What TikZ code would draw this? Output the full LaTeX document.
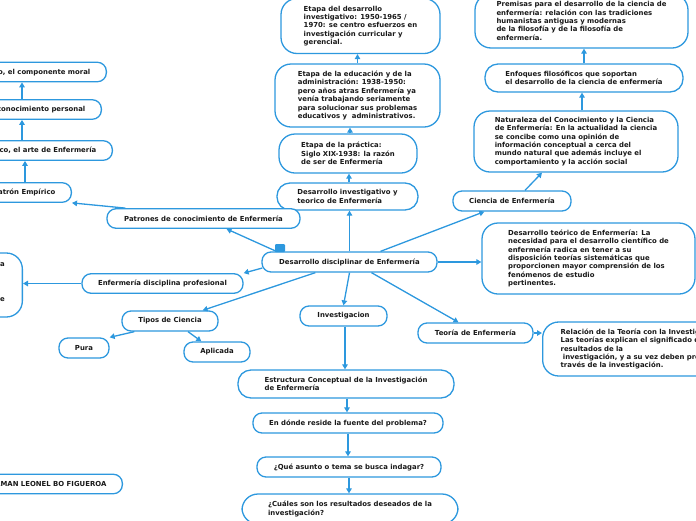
\documentclass[tikz,border=0pt]{standalone}
\usepackage{fontspec}
\setmainfont{DejaVu Sans}
\usetikzlibrary{arrows.meta,calc}
\definecolor{blu}{RGB}{45,152,222}
\definecolor{ink}{RGB}{25,25,25}
\newcommand\mapfnt{\bfseries\fontsize{6.9}{8.4}\selectfont}
\tikzset{
  bx/.style={draw=blu, line width=1.3pt, fill=white, rounded corners=9pt, text=ink, font=\mapfnt, inner sep=0pt, align=center},
  bigbx/.style={bx, rounded corners=16pt, align=left},
  leftbx/.style={bx, anchor=east, inner xsep=16pt, inner ysep=0pt, minimum height=19.5pt},
  plain/.style={text=ink, font=\mapfnt, inner sep=0pt},
  arr/.style={draw=blu, line width=1.3pt, -{Triangle[length=5pt,width=5.5pt]}},
}
\begin{document}
\begin{tikzpicture}[x=1pt,y=-1pt]
\useasboundingbox (0,0) rectangle (696,520);
\clip (0,0) rectangle (696,520);

% central column (upwards)
\node[bigbx, minimum width=159, minimum height=55] (e1) at (360.5,26)
  {Etapa del desarrollo\\investigativo: 1950-1965 /\\1970: se centro esfuerzos en\\investigación curricular y\\gerencial.};
\node[bigbx, minimum width=165, minimum height=63] (e2) at (357.5,95.5)
  {Etapa de la educación y de la\\administración: 1938-1950:\\pero años atras Enfermería ya\\venía trabajando seriamente\\para solucionar sus problemas\\educativos y\ \ administrativos.};
\node[bigbx, minimum width=138, minimum height=39] (e3) at (348,153.5)
  {Etapa de la práctica:\\Siglo XIX-1938: la razón\\de ser de Enfermería};
\node[bigbx, rounded corners=13pt, minimum width=141, minimum height=27] (e4) at (347.5,196.5)
  {Desarrollo investigativo y\\teorico de Enfermería};
\node[bx, minimum width=175, minimum height=20] (c) at (349.5,262) {Desarrollo disciplinar de Enfermería};
\node[fill=blu, rounded corners=1pt, minimum width=10pt, minimum height=8pt, inner sep=0pt] (mk) at (280,248) {};

% right column
\node[bigbx, minimum width=213, minimum height=54] (p1) at (581.5,21)
  {Premisas para el desarrollo de la ciencia de\\enfermería: relación con las tradiciones\\humanistas antiguas y modernas\\de la filosofía y de la filosofía de\\enfermería.};
\node[bigbx, rounded corners=13pt, minimum width=198, minimum height=28] (p2) at (584,78)
  {Enfoques filosóficos que soportan\\el desarrollo de la ciencia de enfermería};
\node[bigbx, minimum width=204, minimum height=61] (p3) at (576,141.5)
  {Naturaleza del Conocimiento y la Ciencia\\de Enfermería: En la actualidad la ciencia\\se concibe como una opinión de\\información conceptual a cerca del\\mundo natural que además incluye el\\comportamiento y la acción social};
\node[bx, minimum width=118, minimum height=20] (ci) at (512,201) {Ciencia de Enfermería};
\node[bigbx, minimum width=213, minimum height=71] (dt) at (588.5,258.5)
  {Desarrollo teórico de Enfermería: La\\necesidad para el desarrollo científico de\\enfermería radica en tener a su\\disposición teorías sistemáticas que\\proporcionen mayor comprensión de los\\fenómenos de estudio\\pertinentes.};
\node[bx, minimum width=115, minimum height=20] (te) at (475.5,333) {Teoría de Enfermería};
\node[bigbx, anchor=west, inner xsep=18pt, text width=210pt, minimum height=54] (rel) at (542,349)
  {Relación de la Teoría con la Investigación:\\Las teorías explican el significado de los\\resultados de la\\\ investigación, y a su vez deben probarse a\\través de la investigación.};

% left column
\node[leftbx] (l1) at (107,72) {Patrón Ético, el componente moral};
\node[leftbx] (l2) at (102,109.5) {Patrón de conocimiento personal};
\node[leftbx] (l3) at (113,150.5) {Patrón Estético, el arte de Enfermería};
\node[leftbx] (l4) at (72,192.5) {Patrón Empírico};
\node[bx, minimum width=193, minimum height=19.5] (pa) at (203.5,218.5) {Patrones de conocimiento de Enfermería};
\node[bx, minimum width=161, minimum height=19.5] (edp) at (162.5,283.5) {Enfermería disciplina profesional};
\node[bx, rounded corners=16pt, anchor=east, minimum width=150, minimum height=64] (ed) at (23,285) {};
\node[plain, anchor=base east] (edt1) at (5,266.5) {La Enfermería como disciplina};
\node[plain, anchor=base east] (edt5) at (5,301.5) {se basa en la evidencia que se};

% lower left
\node[bx, minimum width=96, minimum height=20] (tc) at (170,321) {Tipos de Ciencia};
\node[bx, minimum width=50, minimum height=20] (pu) at (84,348) {Pura};
\node[bx, minimum width=66, minimum height=20] (ap) at (217,352) {Aplicada};
\node[leftbx] (nm) at (123,484) {GERMAN LEONEL BO FIGUEROA};

% lower centre column
\node[bx, minimum width=87, minimum height=20] (inv) at (343.5,316) {Investigacion};
\node[bigbx, rounded corners=13pt, minimum width=216, minimum height=28] (est) at (346,384)
  {Estructura Conceptual de la Investigación\\de Enfermería};
\node[bx, minimum width=190, minimum height=20] (don) at (348,423) {En dónde reside la fuente del problema?};
\node[bx, minimum width=184, minimum height=20] (que) at (349,467) {¿Qué asunto o tema se busca indagar?};
\node[bigbx, minimum width=216, minimum height=30] (cua) at (350,509)
  {¿Cuáles son los resultados deseados de la\\investigación?};

% helper coordinates
\coordinate (k4) at ($(l4.north east)+(-47,0)$);
\coordinate (k3) at ($(l3.north east)+(-91,0)$);
\coordinate (k2) at ($(l2.north east)+(-80,0)$);

% connectors
\draw[arr] (e2.north) -- (e2.north |- e1.south);
\draw[arr] ($(e3.north)+(2,0)$) -- ($(e3.north |- e2.south)+(2,0)$);
\draw[arr] ($(e4.north)+(1.5,0)$) -- ($(e4.north |- e3.south)+(1.5,0)$);
\draw[arr] (c.north) -- (c.north |- e4.south);
\draw[arr] (p2.north) -- (p2.north |- p1.south);
\draw[arr] ($(p3.north)+(6,0)$) -- ($(p3.north |- p2.south)+(6,0)$);
\draw[arr] ($(ci.north)+(13,0)$) -- ($(p3.south)+(-34,0)$);
\draw[arr] ($(c.north)+(31,0)$) -- ($(ci.south west)+(32,0)$);
\draw[arr] (c.east) -- (c.east -| dt.west);
\draw[arr] ($(c.south)+(22,0)$) -- ($(te.north)+(-17,0)$);
\draw[arr] (te.east) -- (te.east -| rel.west);
\draw[arr] (c.south) -- (inv.north);
\draw[arr] ($(inv.south)+(1.5,0)$) -- ($(inv.south |- est.north)+(1.5,0)$);
\draw[arr] ($(est.south)+(1,0)$) -- ($(est.south |- don.north)+(1,0)$);
\draw[arr] (don.south) -- (don.south |- que.north);
\draw[arr] (que.south) -- (que.south |- cua.north);
\draw[arr] ($(c.north west)+(15,0)$) -- ($(pa.south)+(23,0)$);
\draw[arr] ($(pa.north west)+(19,0)$) -- (l4.south east);
\draw[arr] (k4) -- (k4 |- l3.south);
\draw[arr] (k3) -- (k3 |- l2.south);
\draw[arr] (k2) -- (k2 |- l1.south);
\draw[arr] ($(c.west)+(1,6)$) -- (edp.north east);
\draw[arr] (edp.west) -- (edp.west -| ed.east);
\draw[arr] ($(c.south west)+(54,0)$) -- ($(tc.north east)+(-16,0)$);
\draw[arr] ($(tc.south west)+(13,0)$) -- (pu.north east);
\draw[arr] ($(tc.south)+(18,0)$) -- ($(ap.north west)+(18,0)$);
\end{tikzpicture}
\end{document}
